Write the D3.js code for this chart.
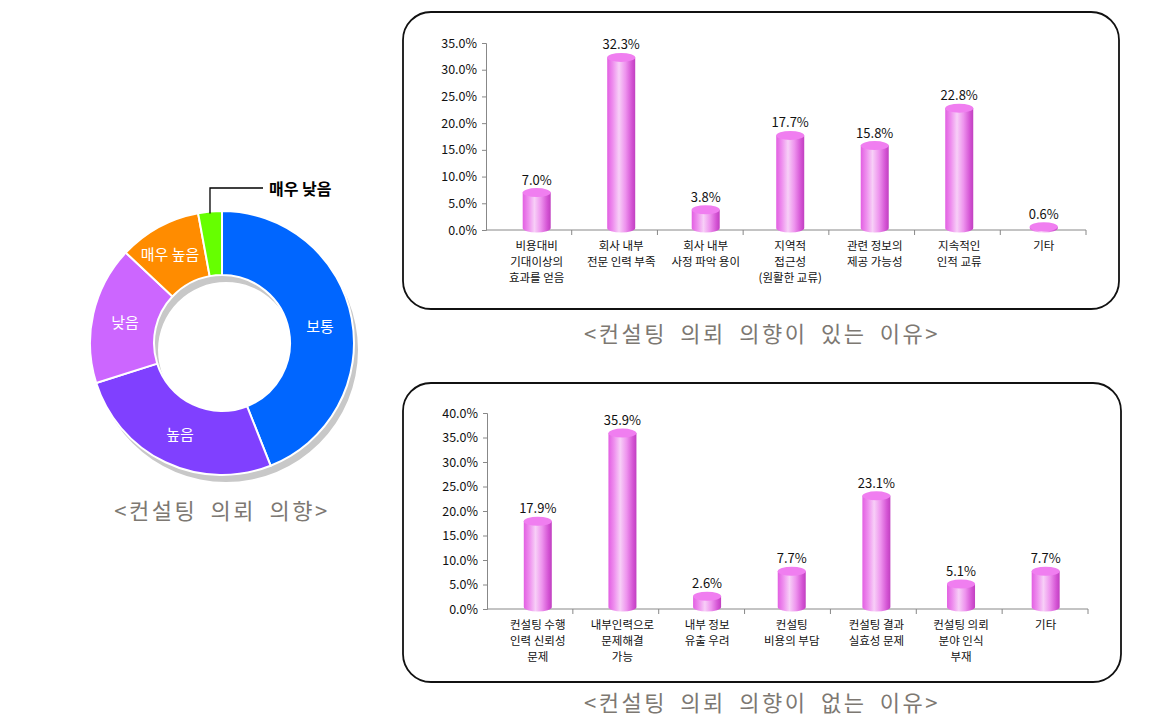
<!DOCTYPE html>
<html><head><meta charset="utf-8">
<script src="https://cdn.jsdelivr.net/npm/d3@7/dist/d3.min.js"></script>
<style>
html,body{margin:0;padding:0;background:#fff;}
svg{display:block;font-family:"Noto Sans CJK KR","Noto Sans",sans-serif;}
</style></head>
<body>
<svg id="c" width="1160" height="724"></svg>
<script>
// ---- Donut data ----
const pieCategories = ["보통", "높음", "낮음", "매우 높음", "매우 낮음"];
const pieValues = [44.0, 26.1, 16.9, 10.1, 2.9];
const pieColors = ["#0066FF", "#8040FF", "#CC66FF", "#FF8C00", "#66FF00"];
const pieTitle = "<컨설팅 의뢰 의향>";

// ---- Top bar chart ----
const topCategories = [
  ["비용대비", "기대이상의", "효과를 얻음"],
  ["회사 내부", "전문 인력 부족"],
  ["회사 내부", "사정 파악 용이"],
  ["지역적", "접근성", "(원활한 교류)"],
  ["관련 정보의", "제공 가능성"],
  ["지속적인", "인적 교류"],
  ["기타"]
];
const topValues = [7.0, 32.3, 3.8, 17.7, 15.8, 22.8, 0.6];
const topTicks = [0, 5, 10, 15, 20, 25, 30, 35];
const topTitle = "<컨설팅 의뢰 의향이 있는 이유>";

// ---- Bottom bar chart ----
const botCategories = [
  ["컨설팅 수행", "인력 신뢰성", "문제"],
  ["내부인력으로", "문제해결", "가능"],
  ["내부 정보", "유출 우려"],
  ["컨설팅", "비용의 부담"],
  ["컨설팅 결과", "실효성 문제"],
  ["컨설팅 의뢰", "분야 인식", "부재"],
  ["기타"]
];
const botValues = [17.9, 35.9, 2.6, 7.7, 23.1, 5.1, 7.7];
const botTicks = [0, 5, 10, 15, 20, 25, 30, 35, 40];
const botTitle = "<컨설팅 의뢰 의향이 없는 이유>";

const svg = d3.select("#c");
const defs = svg.append("defs");
const grad = defs.append("linearGradient").attr("id", "cyl").attr("x1", "0").attr("x2", "1").attr("y1", "0").attr("y2", "0");
[[0, "#E25FE2"], [0.2, "#EE8EEE"], [0.42, "#F7CFF7"], [0.65, "#EE94EE"], [0.88, "#D453D4"], [1, "#C040C0"]]
  .forEach(([o, c]) => grad.append("stop").attr("offset", o).attr("stop-color", c));

const titleColor = "#7d7872";
function titleText(x, y, t) {
  svg.append("text").attr("x", x).attr("y", y).attr("text-anchor", "middle")
    .attr("font-size", 22).attr("letter-spacing", 2.5).attr("word-spacing", 6)
    .attr("fill", titleColor).text(t);
}

// ---- Donut ----
(function () {
  const cx = 222, cy = 343, R = 132, r = 68;
  const pie = d3.pie().sort(null).value(d => d.v);
  const data = pie(pieCategories.map((c, i) => ({ c, v: pieValues[i], col: pieColors[i] })));
  const arc = d3.arc().innerRadius(r).outerRadius(R);
  svg.append("path")
    .attr("transform", `translate(${cx + 4},${cy + 7})`)
    .attr("d", d3.arc().innerRadius(r).outerRadius(R).startAngle(0).endAngle(2 * Math.PI)())
    .attr("fill", "#c8c8c8");
  const g = svg.append("g").attr("transform", `translate(${cx},${cy})`);
  g.selectAll("path.s").data(data).join("path")
    .attr("class", "s")
    .attr("d", arc)
    .attr("fill", d => d.data.col)
    .attr("stroke", "#fff").attr("stroke-width", 2);
  const labelPos = { "보통": [98, -16], "높음": [-42, 92], "낮음": [-97, -20], "매우 높음": [-52, -88] };
  data.forEach(d => {
    const p = labelPos[d.data.c];
    if (p) {
      g.append("text").attr("x", p[0]).attr("y", p[1]).attr("dy", "0.35em")
        .attr("text-anchor", "middle").attr("fill", "#fff").attr("font-size", 15)
        .text(d.data.c);
    }
  });
  const last = data[data.length - 1];
  const mid = (last.startAngle + last.endAngle) / 2;
  const sx = Math.sin(mid) * R, sy = -Math.cos(mid) * R;
  g.append("polyline")
    .attr("points", `${sx},${sy + 2} ${sx},${-155} ${41},${-155}`)
    .attr("fill", "none").attr("stroke", "#000").attr("stroke-width", 1.3);
  g.append("text").attr("x", 47).attr("y", -154).attr("dy", "0.35em")
    .attr("font-size", 16).attr("font-weight", "bold").attr("fill", "#000")
    .text(last.data.c);
  titleText(cx, 519, pieTitle);
})();

// ---- Bar chart helper ----
function barChart(opt) {
  const { box, x0, x1, y0, y1, cats, vals, ticks, title, titleY } = opt;
  svg.append("rect")
    .attr("x", box[0]).attr("y", box[1]).attr("width", box[2] - box[0]).attr("height", box[3] - box[1])
    .attr("rx", 28).attr("ry", 28)
    .attr("fill", "none").attr("stroke", "#111").attr("stroke-width", 1.8);

  const y = d3.scaleLinear().domain([0, d3.max(ticks)]).range([y0, y1]);
  const slot = d3.scaleBand().domain(d3.range(cats.length)).range([x0, x1]).padding(0);
  const x = d3.scaleBand().domain(d3.range(cats.length)).range([x0, x1])
    .paddingInner(0).paddingOuter(0.05).align(1);

  const ax = svg.append("g").attr("transform", `translate(${x0},0)`)
    .call(d3.axisLeft(y).tickValues(ticks).tickFormat(d => d3.format(".1f")(d) + "%").tickSize(4).tickPadding(5));
  ax.select(".domain").attr("stroke", "#888");
  ax.selectAll(".tick line").attr("stroke", "#888");
  ax.selectAll(".tick text").attr("font-size", 12.5).attr("fill", "#111")
    .attr("font-family", "'Noto Sans CJK KR', sans-serif");

  svg.append("line").attr("x1", x0).attr("x2", x1).attr("y1", y0).attr("y2", y0).attr("stroke", "#888");
  d3.range(cats.length).forEach(i => {
    const xx = slot(i) + slot.bandwidth();
    svg.append("line").attr("x1", xx).attr("x2", xx).attr("y1", y0).attr("y2", y0 + 5).attr("stroke", "#888");
  });

  const w = 28, rx = w / 2, ry = 4.5;
  const g = svg.append("g");
  vals.forEach((v, i) => {
    const cx = x(i) + x.bandwidth() / 2;
    const yt = y(v), yb = y0 - 2;
    g.append("path")
      .attr("d", `M${cx - rx},${yt} L${cx - rx},${yb} A${rx},${ry} 0 0 0 ${cx + rx},${yb} L${cx + rx},${yt} Z`)
      .attr("fill", "url(#cyl)");
    g.append("ellipse").attr("cx", cx).attr("cy", yt).attr("rx", rx).attr("ry", ry).attr("fill", "#F07EF0");
    g.append("text").attr("x", cx).attr("y", yt - 8).attr("text-anchor", "middle")
      .attr("font-size", 13).attr("fill", "#111").text(d3.format(".1f")(v) + "%");
    cats[i].forEach((ln, k) => {
      g.append("text").attr("x", cx).attr("y", y0 + 20 + k * 16).attr("text-anchor", "middle")
        .attr("font-size", 11.5).attr("fill", "#111").text(ln);
    });
  });

  titleText(762, titleY, title);
}

barChart({ box: [403, 12, 1119, 309], x0: 486, x1: 1086, y0: 230, y1: 43,
  cats: topCategories, vals: topValues, ticks: topTicks, title: topTitle, titleY: 342 });
barChart({ box: [403, 383, 1121, 682], x0: 487, x1: 1088, y0: 609, y1: 413,
  cats: botCategories, vals: botValues, ticks: botTicks, title: botTitle, titleY: 711 });
</script>
</body></html>
